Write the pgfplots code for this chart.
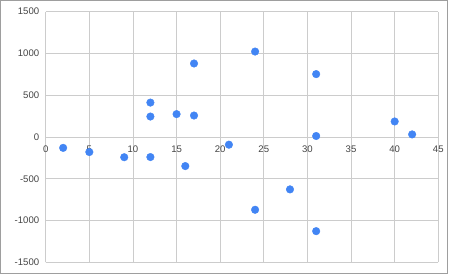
\documentclass[border=0pt]{standalone}
\usepackage{fontspec}
\setmainfont{Liberation Sans}
\usepackage{pgfplots}
\pgfplotsset{compat=1.18}
\definecolor{ptblue}{HTML}{4285F4}
\definecolor{gridc}{HTML}{CCCCCC}
\definecolor{labc}{HTML}{444444}
\definecolor{framec}{HTML}{9E9E9E}
\begin{document}
\begin{tikzpicture}[x=1bp,y=1bp]
\path[use as bounding box, fill=white] (0,0) rectangle (450,274);
\draw[framec, line width=1.4bp] (0.7,0.7) rectangle (447.5,273.3);
\begin{axis}[
  at={(45.7bp,11.7bp)}, anchor=south west,
  scale only axis, width=392.6bp, height=250.6bp,
  xmin=0, xmax=45, ymin=-1500, ymax=1500,
  xtick={0,5,...,45}, ytick={-1500,-1000,...,1500},
  axis x line*=middle, axis y line*=left,
  axis line style={draw=gridc, line width=0.8bp},
  hide obscured x ticks=false, hide obscured y ticks=false,
  grid=major, major grid style={draw=gridc, line width=0.8bp},
  major tick length=0pt,
  tick label style={font=\fontsize{9.6}{10}\selectfont, text=labc, inner sep=0pt},
  /pgf/number format/assume math mode=true,
  /pgf/number format/1000 sep={},
  xticklabel style={anchor=north, yshift=-9bp},
  yticklabel style={anchor=east, xshift=-6.3bp},
  clip=false,
]
\addplot[only marks, mark=*, mark size=3.8bp, mark options={draw=ptblue, fill=ptblue}] coordinates {
(2,-130) (5,-180) (9,-242) (12,-240) (16,-348)
(12,412) (12,245) (15,274) (17,257) (17,880)
(24,1023) (31,753) (31,12) (40,186) (42,31)
(21,-92) (28,-627) (24,-871) (31,-1127)
};
\end{axis}
\end{tikzpicture}
\end{document}
